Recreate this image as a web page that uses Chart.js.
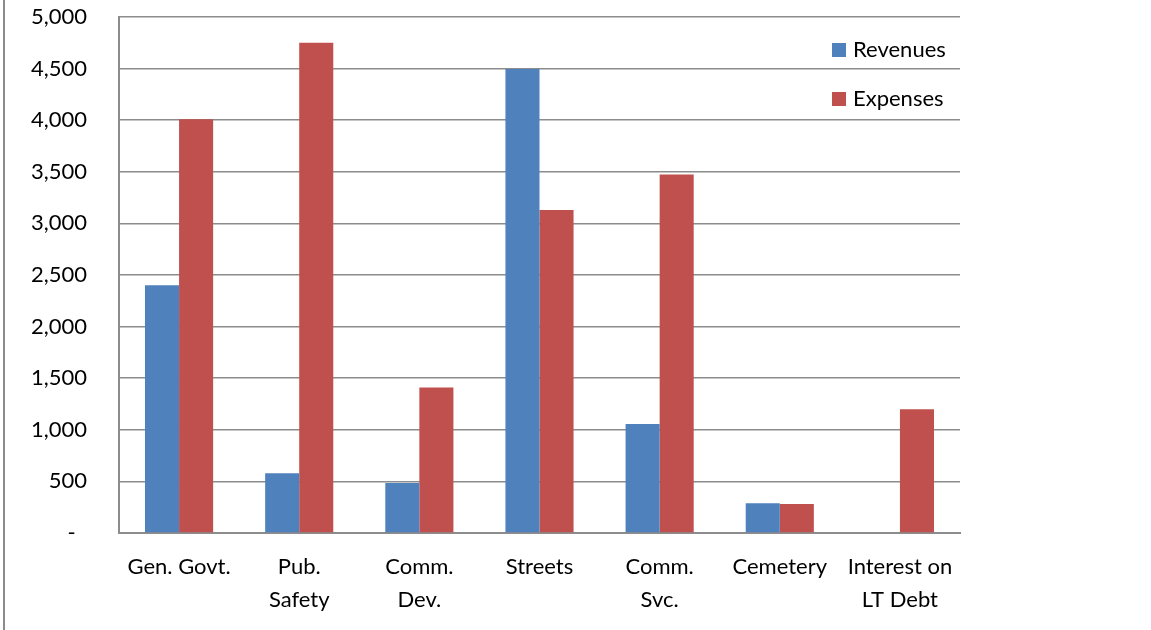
<!DOCTYPE html>
<html lang="en">
<head>
    <meta charset="UTF-8">
    <title>Revenues and Expenses by Function</title>
    <script src="https://cdn.jsdelivr.net/npm/chart.js"></script>
    <style>
        html, body { margin: 0; padding: 0; background: #fff; }
        #wrap { width: 1151px; height: 630px; }
    </style>
</head>
<body>
    <div id="wrap"><canvas id="myBarChart"></canvas></div>

    <script>
        // functions along the x axis
        const categories = ['Gen. Govt.', ['Pub.', 'Safety'], ['Comm.', 'Dev.'], 'Streets', ['Comm.', 'Svc.'], 'Cemetery', ['Interest on', 'LT Debt']];
        // values in thousands
        const revenues = [2400, 580, 485, 4495, 1055, 288, 0];
        const expenses = [4010, 4750, 1410, 3130, 3475, 281, 1200];
        const yTicks = [0, 500, 1000, 1500, 2000, 2500, 3000, 3500, 4000, 4500, 5000];

        const gridGray = '#8c8c8c';
        const fontFamily = 'Lato, "Open Sans", sans-serif';

        // legend stacked inside the plot, top right
        const insideLegend = {
            id: 'insideLegend',
            afterDraw(chart) {
                const ctx = chart.ctx;
                const area = chart.chartArea;
                const x = area.right - 128;
                ctx.save();
                ctx.font = '22px ' + fontFamily;
                ctx.textBaseline = 'middle';
                chart.data.datasets.forEach((ds, i) => {
                    const y = area.top + 33 + i * 49;
                    ctx.fillStyle = ds.backgroundColor;
                    ctx.fillRect(x, y - 7, 14, 14);
                    ctx.fillStyle = '#000';
                    ctx.fillText(ds.label, x + 21, y);
                });
                ctx.restore();
            }
        };

        // thin frame line on the left edge
        const leftEdge = {
            id: 'leftEdge',
            afterDraw(chart) {
                const ctx = chart.ctx;
                ctx.save();
                ctx.strokeStyle = '#8c8c8c';
                ctx.lineWidth = 2;
                ctx.beginPath();
                ctx.moveTo(4, 0);
                ctx.lineTo(4, chart.height);
                ctx.stroke();
                ctx.restore();
            }
        };

        const ctx = document.getElementById('myBarChart').getContext('2d');
        const myBarChart = new Chart(ctx, {
            type: 'bar',
            data: {
                labels: categories,
                datasets: [{
                    label: 'Revenues',
                    data: revenues,
                    backgroundColor: '#4F81BD'
                }, {
                    label: 'Expenses',
                    data: expenses,
                    backgroundColor: '#C0504D'
                }]
            },
            options: {
                responsive: true,
                maintainAspectRatio: false,
                animation: false,
                categoryPercentage: 0.567,
                barPercentage: 1,
                layout: { padding: { top: 17, right: 191, left: 0, bottom: 0 } },
                plugins: {
                    legend: { display: false },
                    tooltip: { enabled: false }
                },
                scales: {
                    x: {
                        grid: { display: false, drawTicks: false },
                        border: { color: gridGray, width: 2 },
                        ticks: {
                            color: '#000',
                            font: { family: fontFamily, size: 22, lineHeight: 1.5 },
                            padding: 17,
                            autoSkip: false,
                            maxRotation: 0
                        },
                        afterFit(scale) { scale.height = 97; }
                    },
                    y: {
                        min: 0,
                        max: 5000,
                        grid: { color: gridGray, lineWidth: 1.5, drawTicks: false },
                        border: { color: gridGray, width: 2 },
                        afterBuildTicks(scale) {
                            scale.ticks = yTicks.map(v => ({ value: v }));
                        },
                        ticks: {
                            color: '#000',
                            font: { family: fontFamily, size: 22, lineHeight: 1.2 },
                            padding: 32,
                            callback: v => v === 0 ? '-  ' : v.toLocaleString('en-US')
                        },
                        afterFit(scale) {
                            scale.width = 119;
                            // tick padding would otherwise push the plot top down
                            scale.paddingTop = 0;
                            scale.paddingBottom = 0;
                        }
                    }
                }
            },
            plugins: [insideLegend, leftEdge]
        });
    </script>
</body>
</html>
